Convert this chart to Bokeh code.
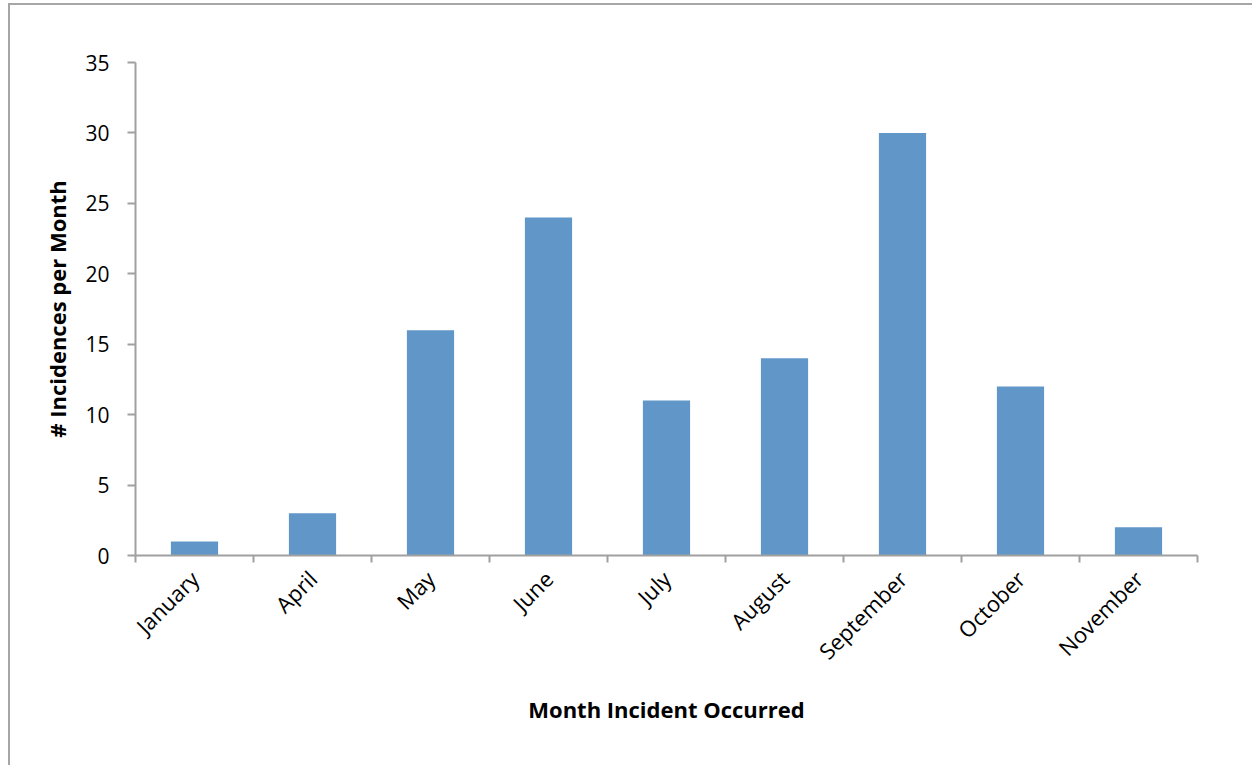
import numpy as np
from bokeh.plotting import figure
from bokeh.models import FixedTicker, Range1d
from bokeh.embed import file_html
from bokeh.resources import INLINE

months = ["January", "April", "May", "June", "July", "August",
          "September", "October", "November"]
incidents = [1, 3, 16, 24, 11, 14, 30, 12, 2]
y_ticks = [0, 5, 10, 15, 20, 25, 30, 35]

FONT = "Open Sans"
AXIS_GREY = "#A0A0A0"
BAR_BLUE = "#6096C8"

W, H = 1252, 765

centers = np.arange(len(months)) + 0.5

p = figure(width=W, height=H,
           output_backend="svg", toolbar_location=None,
           x_range=Range1d(0, len(months)), y_range=Range1d(0, 35),
           min_border_left=135, min_border_right=W - 1197,
           min_border_top=62, min_border_bottom=H - 555)
# transparent canvas so the host's frame lines (top and left edges of
# the chart area) show through
p.border_fill_color = None
p.background_fill_color = None
p.styles = {"background": "white",
            "box-shadow": "inset 8px 3px 0 0 white, inset 10px 5px 0 0 #A6A6A6"}
p.outline_line_color = None
p.grid.visible = False

p.vbar(x=centers, top=incidents, width=0.4, bottom=0,
       fill_color=BAR_BLUE, line_color=None)

# x axis: labels at bar centres, tick marks at category boundaries
xa = p.xaxis[0]
xa.ticker = FixedTicker(ticks=list(centers),
                        minor_ticks=list(range(len(months) + 1)))
xa.major_label_overrides = {float(c): m for c, m in zip(centers, months)}
xa.major_tick_out = 0
xa.major_tick_in = 0
xa.minor_tick_out = 7
xa.minor_tick_in = 0
xa.minor_tick_line_color = AXIS_GREY
xa.minor_tick_line_width = 2
xa.major_label_orientation = np.pi / 4
xa.major_label_standoff = 12
xa.major_label_text_font = FONT
xa.major_label_text_font_size = "22px"
xa.major_label_text_color = "black"
xa.axis_line_color = AXIS_GREY
xa.axis_line_width = 2
xa.axis_label = "Month Incident Occurred"
xa.axis_label_text_font = FONT
xa.axis_label_text_font_size = "22px"
xa.axis_label_text_font_style = "bold"
xa.axis_label_text_color = "black"
xa.axis_label_standoff = 15

ya = p.yaxis[0]
ya.ticker = FixedTicker(ticks=y_ticks)
ya.major_tick_out = 8
ya.major_tick_in = 0
ya.minor_tick_line_color = None
ya.major_tick_line_color = AXIS_GREY
ya.major_tick_line_width = 2
ya.major_label_standoff = 18
ya.major_label_text_font = FONT
ya.major_label_text_font_size = "21px"
ya.major_label_text_color = "black"
ya.axis_line_color = AXIS_GREY
ya.axis_line_width = 2
ya.axis_label = "# Incidences per Month"
ya.axis_label_text_font = FONT
ya.axis_label_text_font_size = "22px"
ya.axis_label_text_font_style = "bold"
ya.axis_label_text_color = "black"
ya.axis_label_standoff = 10

open("out.html", "w").write(file_html(p, INLINE))
